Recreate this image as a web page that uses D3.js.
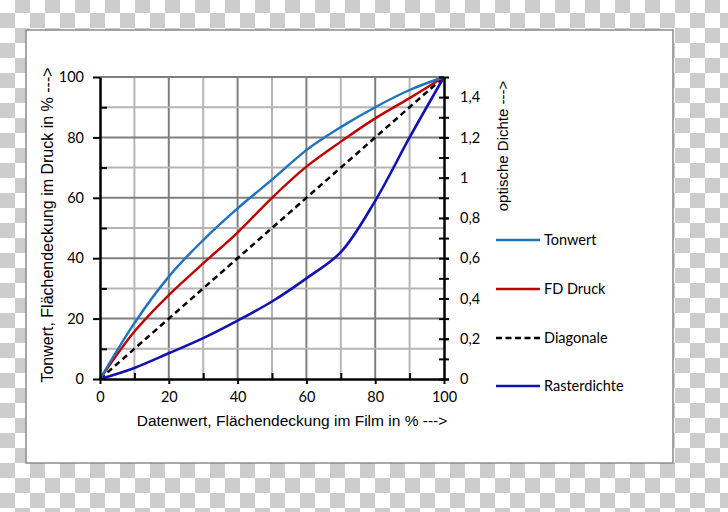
<!DOCTYPE html>
<html><head><meta charset="utf-8">
<script src="https://cdn.jsdelivr.net/npm/d3@7"></script>
<style>body{margin:0;background:#fff}svg{display:block}</style>
</head><body>
<svg id="c" width="728" height="512"></svg>
<script>
// ---- data ----
const xValues = [0, 10, 20, 30, 40, 50, 60, 70, 80, 90, 100];
const tonwert = [0, 18.5, 33.9, 46, 56.5, 66, 75.8, 83.4, 90, 95.7, 100];
const fdDruck = [0, 15.7, 27.8, 38.3, 48.5, 60, 70.3, 78.6, 86.3, 93, 100];
const diagonale = [0, 100];
const diagonaleX = [0, 100];
const rasterX = [0, 10, 20, 30, 40, 50, 60, 70, 80, 90, 100];
const rasterdichte = [0, 0.055, 0.128, 0.203, 0.29, 0.385, 0.50, 0.63, 0.885, 1.20, 1.50];
const xTicks = [0, 20, 40, 60, 80, 100];
const yTicks = [0, 20, 40, 60, 80, 100];
const densTicks = [0, 0.2, 0.4, 0.6, 0.8, 1.0, 1.2, 1.4];
const densMinor = [0, 0.1, 0.2, 0.3, 0.4, 0.5, 0.6, 0.7, 0.8, 0.9, 1.0, 1.1, 1.2, 1.3, 1.4, 1.5];
const legendLabels = ["Tonwert", "FD Druck", "Diagonale", "Rasterdichte"];

const colors = {Tonwert: "#1f72bd", FD: "#c00000", Diag: "#000", Raster: "#1212b4"};

const svg = d3.select("#c");
// checkerboard background
const defs = svg.append("defs");
const pat = defs.append("pattern").attr("id", "chk").attr("patternUnits", "userSpaceOnUse")
  .attr("x", 0).attr("y", -2).attr("width", 30).attr("height", 30);
pat.append("rect").attr("width", 30).attr("height", 30).attr("fill", "#fff");
pat.append("rect").attr("x", 15).attr("y", 0).attr("width", 15).attr("height", 15).attr("fill", "#cdcdcd");
pat.append("rect").attr("x", 0).attr("y", 15).attr("width", 15).attr("height", 15).attr("fill", "#cdcdcd");
svg.append("rect").attr("width", 728).attr("height", 512).attr("fill", "url(#chk)");

// panel
svg.append("rect").attr("x", 26).attr("y", 30).attr("width", 647).attr("height", 433)
  .attr("fill", "#fff").attr("stroke", "#8a8a8a").attr("stroke-width", 1.5);

const x = d3.scaleLinear().domain([0, 100]).range([100, 444]);
const y = d3.scaleLinear().domain([0, 100]).range([379, 77]);
const yd = d3.scaleLinear().domain([0, 1.5]).range([379, 77]);

const tickFont = "Lato, 'Open Sans', sans-serif";
const titleFont = "'Liberation Sans', Arial, sans-serif";

// gridlines
const gridVals = d3.range(10, 101, 10);
const g = svg.append("g");
g.selectAll("line.v").data(gridVals.filter(v => v < 100)).join("line")
  .attr("x1", d => x(d)).attr("x2", d => x(d)).attr("y1", y(0)).attr("y2", y(100))
  .attr("stroke", d => d % 20 === 0 ? "#7f7f7f" : "#b5b5b5").attr("stroke-width", 2);
g.selectAll("line.h").data(gridVals).join("line")
  .attr("y1", d => y(d)).attr("y2", d => y(d)).attr("x1", x(0)).attr("x2", x(100))
  .attr("stroke", d => d % 20 === 0 ? "#7f7f7f" : "#b5b5b5").attr("stroke-width", 2);

// curves
const lineL = d3.line().x((d, i) => x(xValues[i])).y(d => y(d)).curve(d3.curveMonotoneX);
const lineD = d3.line().x((d, i) => x(rasterX[i])).y(d => yd(d)).curve(d3.curveCatmullRom.alpha(0.5));
const lineDiag = d3.line().x((d, i) => x(diagonaleX[i])).y(d => y(d));
svg.append("path").attr("d", lineDiag(diagonale)).attr("fill", "none")
  .attr("stroke", colors.Diag).attr("stroke-width", 2.5).attr("stroke-dasharray", "6,4");
svg.append("path").attr("d", lineD(rasterdichte)).attr("fill", "none")
  .attr("stroke", colors.Raster).attr("stroke-width", 2.6);
svg.append("path").attr("d", lineL(fdDruck)).attr("fill", "none")
  .attr("stroke", colors.FD).attr("stroke-width", 2.4);
svg.append("path").attr("d", lineL(tonwert)).attr("fill", "none")
  .attr("stroke", colors.Tonwert).attr("stroke-width", 2.4);

function styleAxis(sel, domain) {
  sel.selectAll("path.domain").attr("stroke", "#000").attr("stroke-width", domain ? 2.5 : 0);
  sel.selectAll(".tick line").attr("stroke", "#000").attr("stroke-width", 2);
  sel.selectAll("text").attr("font-family", tickFont).attr("font-size", 14.5).attr("fill", "#000");
}

// left axis
const la = svg.append("g").attr("transform", `translate(${x(0)},0)`)
  .call(d3.axisLeft(y).tickValues(yTicks).tickSizeInner(7).tickSizeOuter(0).tickPadding(9));
styleAxis(la, true);
const lam = svg.append("g").attr("transform", `translate(${x(0)},0)`)
  .call(d3.axisRight(y).tickValues([10, 30, 50, 70, 90]).tickSize(7).tickFormat(""));
lam.select(".domain").remove(); styleAxis(lam, false);

// bottom axis
const ba = svg.append("g").attr("transform", `translate(0,${y(0)})`)
  .call(d3.axisBottom(x).tickValues(xTicks).tickSizeInner(5).tickSizeOuter(0).tickPadding(8));
styleAxis(ba, true);
const bam = svg.append("g").attr("transform", `translate(0,${y(0)})`)
  .call(d3.axisTop(x).tickValues([10, 30, 50, 70, 90]).tickSize(6).tickFormat(""));
bam.select(".domain").remove(); styleAxis(bam, false);

// right axis
const ra = svg.append("g").attr("transform", `translate(${x(100)},0)`)
  .call(d3.axisRight(yd).tickValues(densTicks).tickSizeInner(5).tickSizeOuter(0).tickPadding(11)
    .tickFormat(d => d3.format(".1~f")(d).replace(".", ",")));
styleAxis(ra, true);
const ram = svg.append("g").attr("transform", `translate(${x(100) + 5},0)`)
  .call(d3.axisLeft(yd).tickValues(densMinor).tickSize(10).tickFormat(""));
ram.select(".domain").remove(); styleAxis(ram, false);

// titles
svg.append("text").attr("x", 292).attr("y", 426).attr("text-anchor", "middle")
  .attr("font-family", titleFont).attr("font-size", 15.5).attr("fill", "#000")
  .text("Datenwert, Flächendeckung im Film in % --->");
svg.append("text").attr("transform", "translate(53,225) rotate(-90)").attr("text-anchor", "middle")
  .attr("font-family", titleFont).attr("font-size", 16).attr("fill", "#000")
  .text("Tonwert, Flächendeckung im Druck in % --->");
svg.append("text").attr("transform", "translate(508,146) rotate(-90)").attr("text-anchor", "middle")
  .attr("font-family", titleFont).attr("font-size", 15).attr("fill", "#000")
  .text("optische Dichte --->");

// legend
const legY = [240, 289, 338, 386];
const legColors = [colors.Tonwert, colors.FD, colors.Diag, colors.Raster];
const leg = svg.append("g");
legendLabels.forEach((lab, i) => {
  leg.append("line").attr("x1", 496).attr("x2", 540).attr("y1", legY[i]).attr("y2", legY[i])
    .attr("stroke", legColors[i]).attr("stroke-width", 2.5)
    .attr("stroke-dasharray", i === 2 ? "6,3.5" : null);
  leg.append("text").attr("x", 544).attr("y", legY[i] + 5).attr("font-family", tickFont)
    .attr("font-size", 14.5).attr("fill", "#000").text(lab);
});
</script>
</body></html>
